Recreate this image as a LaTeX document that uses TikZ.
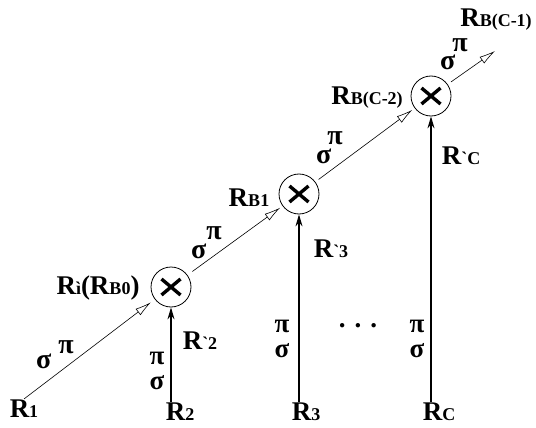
\documentclass[tikz,border=0pt]{standalone}
\usepackage{fontspec}
\setmainfont{Liberation Serif}
\usepackage{tikz}
\usetikzlibrary{arrows.meta}
\newcommand{\Rsub}[1]{R{\fontsize{18}{18}\selectfont #1}}
\newcommand{\sigpi}[2]{σ\hspace{#1}\raisebox{#2}{π}}
\tikzset{
    lbl/.style={font=\fontsize{27}{29}\selectfont\bfseries, inner sep=1pt},
    greek/.style={font=\fontsize{28}{30}\selectfont\bfseries, inner sep=0pt, anchor=base west},
    greekstack/.style={font=\fontsize{27}{25}\selectfont\bfseries, inner sep=0pt, align=center},
    mult/.style={circle, draw, line width=0.8pt, minimum size=40pt, inner sep=0pt,
                 path picture={
                   \draw[line width=3.4pt]
                     ([shift={(-9.5pt,-8pt)}]path picture bounding box.center) -- ([shift={(9.5pt,8pt)}]path picture bounding box.center)
                     ([shift={(-9.5pt,8pt)}]path picture bounding box.center) -- ([shift={(9.5pt,-8pt)}]path picture bounding box.center);
                 }},
    diag/.style={-{Latex[open, length=16pt, width=8pt]}, line width=0.6pt},
    feed/.style={-{Stealth[length=12pt, width=7pt]}, line width=1.1pt},
}
\begin{document}
\begin{tikzpicture}[x=1pt, y=-1pt]
  \useasboundingbox (0,0) rectangle (536,428);

  % multipliers
  \node[mult] (m1) at (171,287) {};
  \node[mult] (m2) at (299,194) {};
  \node[mult] (m3) at (431,96) {};

  % inputs
  \node[lbl] (r1) at (24,409) {\Rsub{1}};
  \node[lbl] (r2) at (180,412) {\Rsub{2}};
  \node[lbl] (r3) at (306,412) {\Rsub{3}};
  \node[lbl] (rc) at (439,412) {\Rsub{C}};
  \coordinate (out) at (495,51);

  % names at the multipliers
  \node[lbl] (rb0) at (98,288) {\Rsub{ì}(\Rsub{B0})};
  \node[lbl] (rb1) at (249,198) {\Rsub{B1}};
  \node[lbl] (rbc2) at (367,98) {\Rsub{B(C-2)}};
  \node[lbl] (rbc1) at (496,20) {\Rsub{B(C-1)}};
  \node[lbl] (rp2) at (200,341) {\Rsub{\textasciigrave 2}};
  \node[lbl] (rp3) at (331,249) {\Rsub{\textasciigrave 3}};
  \node[lbl] (rpc) at (461,156) {\Rsub{\textasciigrave C}};

  % sigma / pi on the chain
  \node[greek] (sp1) at (36,368) {\sigpi{7pt}{15pt}};
  \node[greek] (sp2) at (191,258) {\sigpi{0pt}{19pt}};
  \node[greek] (sp3) at (316,163) {\sigpi{-4pt}{19pt}};
  \node[greek] (sp4) at (440,70) {\sigpi{-3pt}{18pt}};

  % sigma / pi on the inputs
  \node[greekstack] (ps2) at (157,371) {π\\σ};
  \node[greekstack] (ps3) at (282,339) {π\\σ};
  \node[greekstack] (psc) at (417,339) {π\\σ};
  \node[lbl] (dots) at (358,326) {.\,\,.\,\,.};

  \draw[diag, shorten >=5pt] (r1.north) -- (m1);
  \draw[diag, shorten <=6pt, shorten >=3pt] (m1) -- (m2);
  \draw[diag, shorten <=4pt, shorten >=3pt] (m2) -- (m3);
  \draw[diag, shorten <=4pt] (m3) -- (out);
  \draw[feed] (r2.north -| m1) -- (m1);
  \draw[feed] (r3.north -| m2) -- (m2);
  \draw[feed] (rc.north -| m3) -- (m3);

\end{tikzpicture}
\end{document}
